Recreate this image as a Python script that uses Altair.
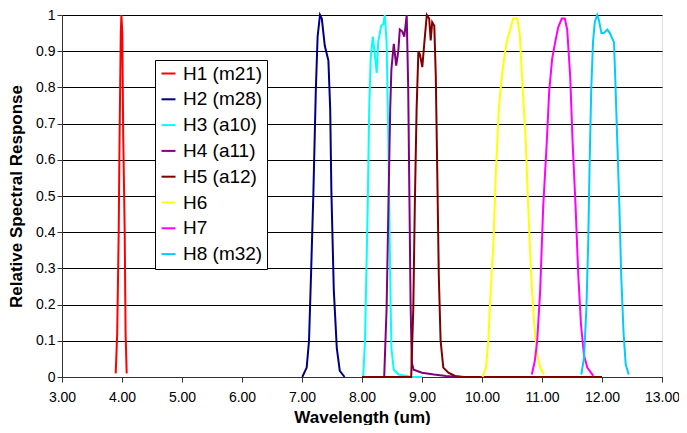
import altair as alt
import pandas as pd

series = ["H1 (m21)", "H2 (m28)", "H3 (a10)", "H4 (a11)", "H5 (a12)", "H6", "H7", "H8 (m32)"]
colors = ["#FF0000", "#000080", "#00FFFF", "#800080", "#800000", "#FFFF00", "#FF00FF", "#00CCFF"]

h1_x = [3.895, 3.92, 3.945, 3.96, 3.98, 3.99, 4.005, 4.02, 4.045, 4.06, 4.078]
h1_y = [0.01, 0.12, 0.40, 0.67, 0.95, 1.0, 0.95, 0.67, 0.40, 0.12, 0.01]

h2_x = [7.005, 7.078, 7.117, 7.15, 7.19, 7.23, 7.26, 7.30, 7.33, 7.38, 7.44, 7.47, 7.49, 7.53, 7.58, 7.63, 7.71]
h2_y = [0.0, 0.026, 0.10, 0.28, 0.51, 0.79, 0.94, 1.0, 0.99, 0.915, 0.874, 0.74, 0.51, 0.24, 0.08, 0.017, 0.0]

h3_x = [8.02, 8.05, 8.095, 8.12, 8.145, 8.18, 8.22, 8.245, 8.27, 8.32, 8.355, 8.38, 8.41, 8.44, 8.47, 8.49, 8.53, 8.61, 8.83, 9.0]
h3_y = [0.0, 0.10, 0.47, 0.74, 0.88, 0.94, 0.88, 0.84, 0.925, 0.97, 0.975, 1.0, 0.925, 0.65, 0.28, 0.08, 0.02, 0.007, 0.0, 0.0]

h4_x = [8.37, 8.41, 8.44, 8.47, 8.49, 8.53, 8.57, 8.605, 8.63, 8.67, 8.705, 8.745, 8.77, 8.79, 8.81, 8.83, 8.86, 9.0, 9.2, 9.4, 9.6]
h4_y = [0.0, 0.19, 0.47, 0.74, 0.85, 0.92, 0.86, 0.90, 0.96, 0.955, 0.94, 1.0, 0.80, 0.50, 0.20, 0.04, 0.02, 0.012, 0.007, 0.003, 0.0]

h5_x = [8.0, 8.82, 8.855, 8.88, 8.91, 8.94, 8.967, 9.005, 9.04, 9.08, 9.12, 9.145, 9.17, 9.205, 9.23, 9.255, 9.28, 9.31, 9.355, 9.44, 9.55, 9.7, 12.0]
h5_y = [0.0, 0.0, 0.19, 0.47, 0.74, 0.90, 0.89, 0.856, 0.925, 1.0, 0.99, 0.93, 0.98, 0.97, 0.83, 0.56, 0.28, 0.10, 0.026, 0.012, 0.003, 0.0, 0.0]

h6_x = [10.01, 10.067, 10.105, 10.145, 10.19, 10.23, 10.28, 10.33, 10.37, 10.41, 10.47, 10.52, 10.59, 10.63, 10.68, 10.73, 10.77, 10.82, 10.87, 10.92, 10.97, 11.03]
h6_y = [0.0, 0.026, 0.10, 0.24, 0.37, 0.56, 0.74, 0.83, 0.88, 0.925, 0.96, 0.99, 0.99, 0.945, 0.79, 0.65, 0.47, 0.28, 0.145, 0.06, 0.026, 0.007]

h7_x = [10.83, 10.88, 10.92, 10.97, 11.02, 11.08, 11.12, 11.17, 11.22, 11.27, 11.33, 11.38, 11.42, 11.47, 11.51, 11.56, 11.605, 11.65, 11.70, 11.755, 11.855]
h7_y = [0.007, 0.044, 0.10, 0.24, 0.47, 0.65, 0.79, 0.88, 0.925, 0.966, 0.99, 0.99, 0.96, 0.83, 0.65, 0.47, 0.28, 0.145, 0.06, 0.026, 0.003]

h8_x = [11.655, 11.70, 11.74, 11.77, 11.795, 11.82, 11.85, 11.88, 11.92, 11.95, 11.99, 12.03, 12.09, 12.13, 12.17, 12.20, 12.22, 12.255, 12.29, 12.32, 12.36, 12.395, 12.445]
h8_y = [0.007, 0.053, 0.19, 0.37, 0.60, 0.79, 0.925, 0.98, 1.0, 0.985, 0.95, 0.95, 0.96, 0.95, 0.935, 0.925, 0.83, 0.65, 0.47, 0.28, 0.12, 0.035, 0.007]

x_ticks = [3, 4, 5, 6, 7, 8, 9, 10, 11, 12, 13]
y_ticks = [0, 0.1, 0.2, 0.3, 0.4, 0.5, 0.6, 0.7, 0.8, 0.9, 1.0]

all_x = [h1_x, h2_x, h3_x, h4_x, h5_x, h6_x, h7_x, h8_x]
all_y = [h1_y, h2_y, h3_y, h4_y, h5_y, h6_y, h7_y, h8_y]

rows = []
for name, xs, ys in zip(series, all_x, all_y):
    for xv, yv in zip(xs, ys):
        rows.append({"series": name, "wl": xv, "resp": yv})
df = pd.DataFrame(rows)

FONT = "Liberation Sans"

chart = alt.Chart(df).mark_line(strokeWidth=2).encode(
    x=alt.X("wl:Q", scale=alt.Scale(domain=[3, 13], nice=False, zero=False),
            axis=alt.Axis(values=x_ticks, format=".2f", title="Wavelength (um)", grid=False,
                          labelFontSize=14, titleFontSize=17, titleFontWeight="bold",
                          labelFont=FONT, titleFont=FONT, labelColor="black", titleColor="black",
                          domainColor="#333333", tickColor="#333333", tickSize=5,
                          labelPadding=8, titlePadding=5, labelFlush=False)),
    y=alt.Y("resp:Q", scale=alt.Scale(domain=[0, 1], nice=False),
            axis=alt.Axis(values=y_ticks, format="~g", title="Relative Spectral Response",
                          grid=True, gridColor="black", gridWidth=1, gridOpacity=1,
                          labelFontSize=14, titleFontSize=17, titleFontWeight="bold",
                          labelFont=FONT, titleFont=FONT, labelColor="black", titleColor="black",
                          domainColor="#333333", tickColor="#333333", tickSize=5,
                          labelPadding=2, titlePadding=10)),
    color=alt.Color("series:N", scale=alt.Scale(domain=series, range=colors),
                    legend=alt.Legend(title=None, orient="none", legendX=93, legendY=45,
                                      fillColor="white", strokeColor="black", padding=4,
                                      labelFont=FONT, labelFontSize=19, labelColor="black",
                                      symbolType="stroke", symbolSize=196, symbolStrokeWidth=2,
                                      rowPadding=5.8, labelOffset=5)),
).properties(
    width=600, height=362,
    autosize=alt.AutoSizeParams(type="none"),
    padding={"left": 54, "top": 7, "right": 17, "bottom": 48},
).configure_view(
    fill="#C0C0C0", stroke="#808080", strokeWidth=1
).configure(background="white")

chart.save("out.html", embed_options={"renderer": "svg", "actions": False})
